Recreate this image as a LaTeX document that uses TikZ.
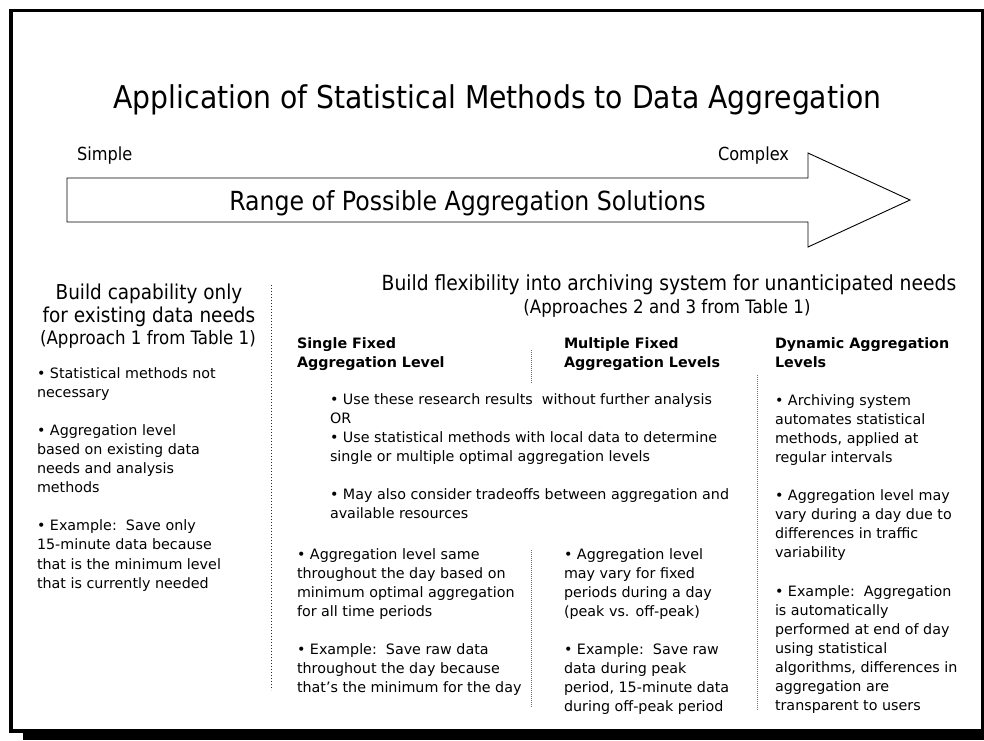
\documentclass[tikz,border=0pt]{standalone}
\usepackage{fontspec}
\setmainfont{DejaVu Sans}
\newfontfamily\narrowfont{DejaVu Sans Condensed}

% stacked lines whose baseline is the first line's baseline
\newcommand\linesleft[1]{\begin{tabular}[t]{@{}l@{}}#1\end{tabular}}

\tikzset{
  txt/.style={inner sep=0pt, outer sep=0pt},
  body/.style={txt, anchor=base west, font=\fontsize{14.3}{19.1}\selectfont},
  colhead/.style={txt, anchor=base west, font=\fontsize{14.3}{19}\selectfont\bfseries},
  bigsep/.style={line width=1.8pt, black!85, dash pattern=on 1.4pt off 1.6pt},
  thinsep/.style={line width=0.8pt, black!55, dash pattern=on 0.9pt off 1.1pt},
}

\begin{document}
\begin{tikzpicture}[x=1pt,y=-1pt]
\useasboundingbox (0,0) rectangle (984,740);

% page frame with its shadow
\fill[black] (23,731) rectangle (984,740);
\draw[line width=3.3pt, fill=white] (11,10.5) rectangle (982.5,731);

% title
\node[txt, anchor=base, font=\narrowfont\fontsize{31.4}{36}\selectfont] (title) at (497.5,108)
  {Application of Statistical Methods to Data Aggregation};

% range arrow
\draw[line width=0.9pt, fill=white]
  (67,178) -- (808,178) -- (808,153) -- (910,200) -- (808,247) -- (808,222) -- (67,222) -- cycle;
\node[txt, anchor=base west, font=\narrowfont\fontsize{18}{22}\selectfont] (simple) at (77,160) {Simple};
\node[txt, anchor=base west, font=\narrowfont\fontsize{18}{22}\selectfont] (complex) at (718,160) {Complex};
\node[txt, anchor=base, font=\narrowfont\fontsize{26.3}{30}\selectfont] (range) at (467.5,210)
  {Range of Possible Aggregation Solutions};

% section headings
\node[txt, anchor=base, font=\narrowfont\fontsize{20.5}{23}\selectfont] (existA) at (149,299) {Build capability only};
\node[txt, anchor=base, font=\narrowfont\fontsize{20.5}{23}\selectfont] (existB) at (149,322) {for existing data needs};
\node[txt, anchor=base, font=\narrowfont\fontsize{18.5}{22}\selectfont] (existC) at (148,344) {(Approach 1 from Table 1)};

\node[txt, anchor=base, font=\narrowfont\fontsize{20.8}{23}\selectfont] (flexA) at (669,290)
  {Build flexibility into archiving system for unanticipated needs};
\node[txt, anchor=base, font=\narrowfont\fontsize{18.5}{22}\selectfont] (flexB) at (667,313)
  {(Approaches 2 and 3 from Table 1)};

% separators
\coordinate (sepA1) at (271.5,285);
\coordinate (sepA2) at (271.5,690);
\coordinate (sepB1) at (531,350);
\coordinate (sepB2) at (531,383);
\coordinate (sepC1) at (531,550);
\coordinate (sepC2) at (531,707);
\coordinate (sepD1) at (757,375);
\coordinate (sepD2) at (757,710);
\draw[bigsep] (sepA1) -- (sepA2);
\draw[thinsep] (sepB1) -- (sepB2);
\draw[thinsep] (sepC1) -- (sepC2);
\draw[thinsep] (sepD1) -- (sepD2);

% left column
\node[body] (leftcol) at (37,378) {\linesleft{%
  • Statistical methods not\\
  necessary\\
  \\
  • Aggregation level\\
  based on existing data\\
  needs and analysis\\
  methods\\
  \\
  • Example:\ \ Save only\\
  15-minute data because\\
  that is the minimum level\\
  that is currently needed}};

% column headings
\node[colhead] (hsingle) at (297,348) {\linesleft{Single Fixed\\Aggregation Level}};
\node[colhead] (hmulti) at (564,348) {\linesleft{Multiple Fixed\\Aggregation Levels}};
\node[colhead] (hdyn) at (775,348) {\linesleft{Dynamic Aggregation\\Levels}};

% shared notes for the fixed levels
\node[body] (shared) at (330,404) {\linesleft{%
  • Use these research results\ \ without further analysis\\
  OR\\
  • Use statistical methods with local data to determine\\
  single or multiple optimal aggregation levels\\
  \\
  • May also consider tradeoffs between aggregation and\\
  available resources}};

% single fixed level
\node[body] (single) at (297,559) {\linesleft{%
  • Aggregation level same\\
  throughout the day based on\\
  minimum optimal aggregation\\
  for all time periods\\
  \\
  • Example:\ \ Save raw data\\
  throughout the day because\\
  that’s the minimum for the day}};

% multiple fixed levels
\node[body] (multi) at (564,559) {\linesleft{%
  • Aggregation level\\
  may vary for fixed\\
  periods during a day\\
  (peak vs. off-peak)\\
  \\
  • Example:\ \ Save raw\\
  data during peak\\
  period, 15-minute data\\
  during off-peak period}};

% dynamic levels
\node[body] (dyn) at (775,405) {\linesleft{%
  • Archiving system\\
  automates statistical\\
  methods, applied at\\
  regular intervals\\
  \\
  • Aggregation level may\\
  vary during a day due to\\
  differences in traffic\\
  variability\\
  \\
  • Example:\ \ Aggregation\\
  is automatically\\
  performed at end of day\\
  using statistical\\
  algorithms, differences in\\
  aggregation are\\
  transparent to users}};
\end{tikzpicture}
\end{document}
